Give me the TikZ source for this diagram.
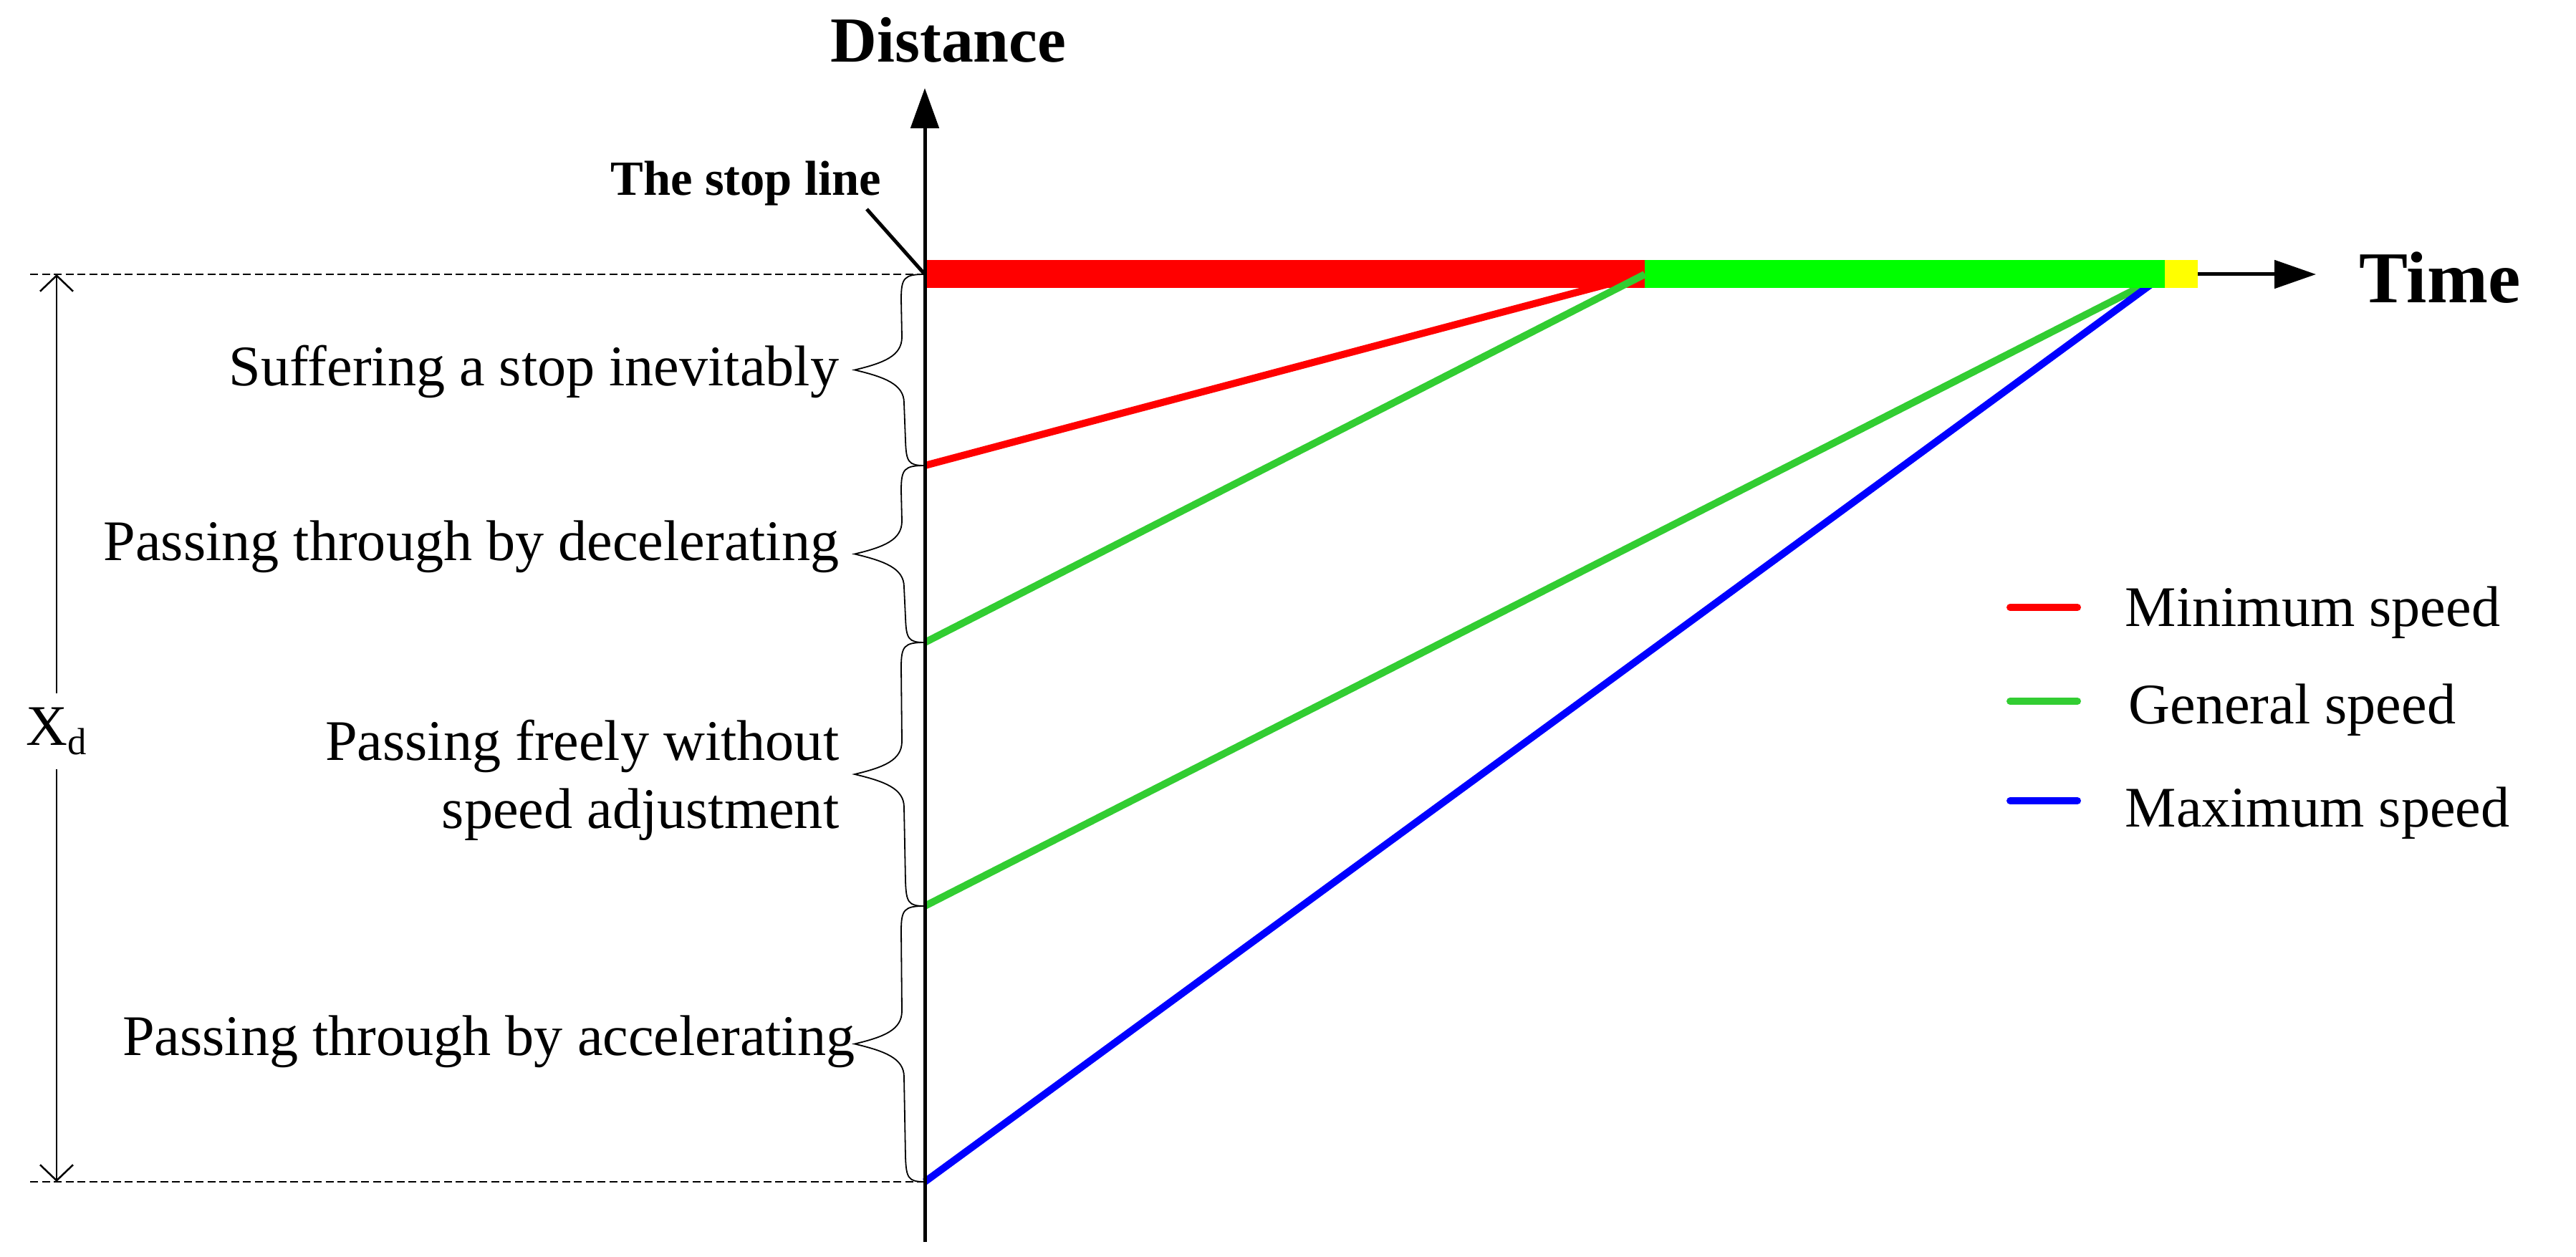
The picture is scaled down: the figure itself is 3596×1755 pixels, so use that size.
\documentclass[tikz,border=0pt]{standalone}
\usepackage{fontspec}
\setmainfont{Liberation Serif}
\usetikzlibrary{arrows.meta}
\definecolor{lred}{RGB}{255,0,0}
\definecolor{lgreen}{RGB}{50,205,50}
\definecolor{bgreen}{RGB}{0,255,0}
\definecolor{lblue}{RGB}{0,0,255}
\definecolor{lyellow}{RGB}{255,255,0}
\newcommand\vbrace[2]{%
  \pgfmathsetmacro\bm{(#1+#2)/2}%
  \draw[brc] (1291,#1) .. controls (1262,#1) and (1258,#1+5) .. (1258,#1+35)
    -- (1259,\bm-46) .. controls (1259,\bm-20) and (1235,\bm-10) .. (1193,\bm)
    .. controls (1235,\bm+10) and (1262,\bm+20) .. (1262,\bm+46)
    -- (1264,#2-35) .. controls (1265,#2-5) and (1268,#2) .. (1291,#2);}
\begin{document}
\begin{tikzpicture}[x=0.01cm,y=-0.01cm,
  lbl/.style={font=\fontsize{22.8}{27}\selectfont, inner sep=0},
  axisline/.style={line width=0.05cm},
  brc/.style={line width=0.018cm},
  guide/.style={line width=0.016cm, dash pattern=on 0.11cm off 0.055cm},
  speed/.style={line width=0.1cm},
  legline/.style={line width=0.1cm, line cap=round},
  bar/.style={draw=none}]
\path[use as bounding box] (0,0) rectangle (3596,1755);

% named points
\coordinate (O) at (1291,383);
\coordinate (ybot) at (1291,1734);
\coordinate (ytop) at (1291,123);
\coordinate (xtip) at (3233,383);
\coordinate (dl1) at (42,383);
\coordinate (dl2) at (42,1650);
\coordinate (B) at (1291,1650);
\coordinate (r0) at (1291,650);
\coordinate (g0) at (1291,897);
\coordinate (h0) at (1291,1265);
\coordinate (E1) at (2296,383);
\coordinate (E2) at (3022,383);
\coordinate (xdt) at (79,383);
\coordinate (xdb) at (79,1650);

% guide lines
\draw[guide] (dl1) -- (O);
\draw[guide] (dl2) -- (B);

% speed lines (under the bar)
\draw[speed, lred] (r0) -- (E1);
\draw[speed, lgreen] (h0) -- (E2);
\draw[speed, lblue] (B) -- (E2);

% time axis
\draw[axisline, -{Triangle[length=0.58cm, width=0.39cm]}] (O) -- (xtip);
% signal bar
\fill[lred] (1291,363) rectangle (2296,402);
\fill[bgreen] (2296,363) rectangle (3022,402);
\fill[lyellow] (3022,363) rectangle (3068,402);

\draw[speed, lgreen] (g0) -- (E1);

% distance axis
\draw[axisline, -{Triangle[length=0.56cm, width=0.39cm]}] (ybot) -- (ytop);

% braces
\vbrace{383}{650}
\vbrace{650}{897}
\vbrace{897}{1265}
\vbrace{1265}{1650}

% Xd dimension
\draw[line width=0.025cm, {Straight Barb[length=0.22cm, width=0.46cm]}-{Straight Barb[length=0.22cm, width=0.46cm]}] (xdt) -- (xdb);
\node[lbl, fill=white, inner ysep=0.2cm, inner xsep=0.05cm] (xd) at (79,1021) {X\raisebox{-0.12cm}{\fontsize{15}{15}\selectfont d}};

% axis labels
\node[inner sep=0, anchor=base, font=\fontsize{25.5}{30}\selectfont\bfseries] (dist) at (1324,87) {Distance};
\node[inner sep=0, anchor=base west, font=\fontsize{29}{34}\selectfont\bfseries] (time) at (3293,423) {Time};
\node[inner sep=0, anchor=base west, font=\fontsize{19.5}{23}\selectfont\bfseries] (stop) at (852,273) {The stop line};
\coordinate (lead) at (1210,292);
\draw[line width=0.05cm] (lead) -- (O);

% region labels
\node[lbl, anchor=base east] (s1) at (1172,538) {Suffering a stop inevitably};
\node[lbl, anchor=base east] (s2) at (1172,782) {Passing through by decelerating};
\node[lbl, anchor=base east] (s3a) at (1172,1061) {Passing freely without};
\node[lbl, anchor=base east] (s3b) at (1172,1156) {speed adjustment};
\node[lbl, anchor=base east] (s4) at (1194,1473) {Passing through by accelerating};

% legend
\coordinate (la1) at (2806,848); \coordinate (lb1) at (2900,848);
\coordinate (la2) at (2806,979); \coordinate (lb2) at (2900,979);
\coordinate (la3) at (2806,1118); \coordinate (lb3) at (2900,1118);
\draw[legline, lred] (la1) -- (lb1);
\draw[legline, lgreen] (la2) -- (lb2);
\draw[legline, lblue] (la3) -- (lb3);
\node[lbl, anchor=base west] (L1) at (2966,874) {Minimum speed};
\node[lbl, anchor=base west] (L2) at (2971,1010) {General speed};
\node[lbl, anchor=base west] (L3) at (2966,1154) {Maximum speed};
\end{tikzpicture}
\end{document}
